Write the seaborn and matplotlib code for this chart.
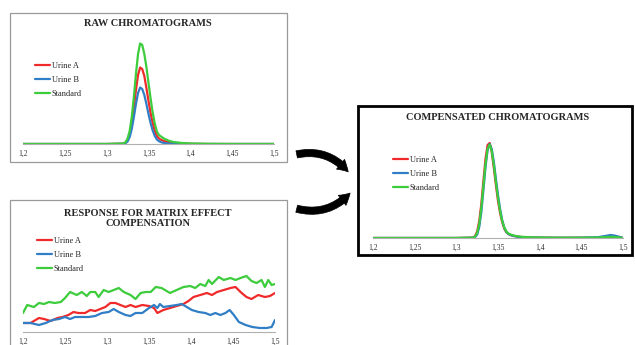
import numpy as np
import pandas as pd
import matplotlib
matplotlib.use("Agg")
import matplotlib.pyplot as plt
import seaborn as sns
from matplotlib.patches import Rectangle, FancyArrowPatch

W, H = 635, 345

# retention time grid for the chromatograms
rt = [1.20, 1.30, 1.32, 1.3225, 1.325, 1.3275, 1.33, 1.3325, 1.335, 1.3375, 1.34, 1.3425,
      1.345, 1.3475, 1.35, 1.3525, 1.355, 1.3575, 1.36, 1.3625, 1.365, 1.3675, 1.37, 1.375,
      1.38, 1.39, 1.40, 1.42, 1.45, 1.47, 1.48, 1.485, 1.49, 1.495, 1.50]

raw_std = [0, 0, 0.5, 1.8, 5.5, 13, 27, 47, 70, 90, 100.5, 99, 90, 77, 61, 45.5, 31.5, 20.5,
           12.5, 9, 7.5, 6, 4.8, 3, 2, 1, 0.5, 0.2, 0, 0, 0, 0, 0, 0, 0]
raw_a = [0, 0, 0.3, 1.2, 4, 10, 21, 36, 54, 69, 76.5, 75, 68, 56, 43, 31, 21, 13,
         8, 5.5, 4.2, 3.3, 2.6, 1.6, 1, 0.5, 0.2, 0, 0, 0, 0, 0, 0, 0, 0]
raw_b = [0, 0, 0.2, 0.8, 2.5, 7, 15, 27, 40, 51, 56.5, 55, 49, 40, 30, 21, 13.5, 8,
         4.5, 2.8, 1.8, 1.2, 0.8, 0.4, 0.2, 0, 0, 0, 0, 0, 0, 0, 0, 0, 0]

comp_std = [0, 0, 0.3, 1.5, 5, 14, 30, 52, 74, 89, 93.5, 87, 73, 56, 40, 27, 17, 10.5,
            6.5, 4.5, 3.5, 2.8, 2.2, 1.5, 1.1, 0.7, 0.5, 0.3, 0.3, 0.5, 1, 1.2, 1, 0.6, 0]
comp_a = [0, 0, 0.4, 2, 6.5, 17, 34, 57, 79, 93, 95, 86, 70, 53, 37, 25, 16, 9.5,
          5.8, 4, 3, 2.4, 1.9, 1.2, 0.8, 0.5, 0.3, 0.2, 0.2, 0.3, 0.6, 0.8, 0.6, 0.3, 0]
comp_b = [0, 0, 0.2, 1, 3.5, 11, 26, 48, 71, 88, 94, 89, 76, 59, 43, 29, 18, 10.5,
          6, 4, 3, 2.3, 1.8, 1.1, 0.7, 0.4, 0.3, 0.2, 0.3, 0.8, 2.2, 3, 2.4, 1.3, 0.2]

# response used for matrix effect compensation
resp_std_x = [1.200, 1.205, 1.213, 1.219, 1.225, 1.231, 1.238, 1.245, 1.250, 1.256, 1.264, 1.270,
              1.276, 1.280, 1.286, 1.290, 1.296, 1.302, 1.308, 1.314, 1.320, 1.328, 1.334, 1.340,
              1.346, 1.352, 1.358, 1.365, 1.371, 1.375, 1.383, 1.391, 1.399, 1.405, 1.411, 1.417,
              1.421, 1.425, 1.433, 1.439, 1.447, 1.453, 1.459, 1.466, 1.472, 1.478, 1.484, 1.488,
              1.492, 1.496, 1.500]
resp_std = [19, 27, 25, 29, 28, 30, 29, 30, 34, 40, 37, 40, 36, 40, 40, 35, 42, 40, 42, 44,
            40, 37, 33, 39, 40, 40, 45, 44, 41, 39, 42, 45, 46, 44, 48, 46, 52, 48, 55, 52,
            54, 52, 54, 56, 51, 49, 52, 45, 52, 47, 48]
resp_a_x = [1.200, 1.209, 1.219, 1.225, 1.233, 1.241, 1.247, 1.254, 1.260, 1.266, 1.274, 1.280,
            1.286, 1.292, 1.298, 1.304, 1.310, 1.316, 1.322, 1.328, 1.334, 1.342, 1.350, 1.356,
            1.360, 1.367, 1.375, 1.383, 1.391, 1.397, 1.403, 1.411, 1.419, 1.425, 1.431, 1.439,
            1.447, 1.453, 1.459, 1.466, 1.472, 1.480, 1.488, 1.494, 1.500]
resp_a = [9, 9, 14, 13, 11, 14, 15, 17, 20, 19, 19, 22, 21, 23, 25, 29, 29, 27, 25, 27,
          25, 27, 26, 24, 19, 22, 24, 26, 28, 31, 35, 37, 39, 37, 40, 42, 44, 45, 40, 35,
          33, 37, 35, 36, 39]
resp_b_x = [1.200, 1.209, 1.219, 1.227, 1.235, 1.243, 1.250, 1.256, 1.262, 1.270, 1.278, 1.286,
            1.294, 1.302, 1.308, 1.314, 1.322, 1.328, 1.334, 1.342, 1.350, 1.356, 1.360, 1.363,
            1.367, 1.375, 1.383, 1.389, 1.395, 1.401, 1.409, 1.417, 1.423, 1.429, 1.435, 1.441,
            1.446, 1.451, 1.457, 1.465, 1.473, 1.482, 1.490, 1.496, 1.500]
resp_b = [9, 9, 7, 9, 12, 13, 15, 13, 15, 15, 15, 16, 19, 20, 23, 20, 17, 16, 19, 19,
          24, 27, 24, 28, 25, 26, 27, 28, 25, 22, 20, 19, 17, 19, 17, 19, 22, 17, 10, 7,
          5, 4, 4, 5, 12]

samples = ["Urine A", "Urine B", "Standard"]
colors = {"Urine A": "#f02a2a", "Urine B": "#2f7ec6", "Standard": "#3ccc3c"}
ticks = [1.2, 1.25, 1.3, 1.35, 1.4, 1.45, 1.5]
tick_labels = ["1,2", "1,25", "1,3", "1,35", "1,4", "1,45", "1,5"]

sns.set_style("white")
plt.rcParams["font.family"] = ["Liberation Serif", "DejaVu Serif"]

fig = plt.figure(figsize=(W / 100, H / 100), dpi=100)


def fx(px): return px / W
def fy(py): return 1 - py / H


def box(x0, y0, x1, y1, color, lw):
    fig.patches.append(Rectangle((fx(x0), fy(y1)), fx(x1) - fx(x0), fy(y0) - fy(y1), transform=fig.transFigure,
                                 fill=False, edgecolor=color, linewidth=lw))


def panel(x0, x1, top, base, ymax, series, legend_at):
    ax = fig.add_axes([fx(x0), fy(base), fx(x1) - fx(x0), fy(top) - fy(base)])
    ax.patch.set_alpha(0)
    df = pd.concat([pd.DataFrame({"rt": x, "signal": y, "sample": s}) for s, x, y in series])
    sns.lineplot(data=df, x="rt", y="signal", hue="sample", hue_order=samples, palette=colors,
                 sort=False, estimator=None, lw=1.6, ax=ax)
    ax.set_xlim(1.2, 1.5); ax.set_ylim(0, ymax)
    ax.set_xticks(ticks); ax.set_xticklabels(tick_labels)
    ax.set_yticks([]); ax.set_xlabel(""); ax.set_ylabel("")
    for s in ["left", "top", "right"]: ax.spines[s].set_visible(False)
    ax.spines["bottom"].set_color("#b0b0b0"); ax.spines["bottom"].set_linewidth(0.8)
    ax.tick_params(axis="x", direction="out", length=2.5, width=0.6, color="#b0b0b0", pad=2, labelsize=5.5, labelcolor="#333333")
    ax.legend(loc="upper left", bbox_to_anchor=(fx(legend_at[0]), fy(legend_at[1])), bbox_transform=fig.transFigure,
              frameon=False, fontsize=6, handlelength=1.8, handletextpad=0.2, labelspacing=0.7, borderpad=0, borderaxespad=0)
    return ax


# raw chromatograms
box(10, 13, 287, 162, "#9a9a9a", 0.9)
panel(23, 274, 35, 144, 109,
      [("Urine A", rt, raw_a), ("Urine B", rt, raw_b), ("Standard", rt, raw_std)], (35, 62))
fig.text(fx(148), fy(24), "RAW CHROMATOGRAMS", ha="center", va="center", fontsize=7.5, fontweight="bold")

# response for matrix effect compensation
box(10, 200, 287, 360, "#9a9a9a", 0.9)
panel(23, 275, 230, 332, 102,
      [("Urine A", resp_a_x, resp_a), ("Urine B", resp_b_x, resp_b), ("Standard", resp_std_x, resp_std)], (37, 237))
fig.text(fx(148), fy(218.5), "RESPONSE FOR MATRIX EFFECT\nCOMPENSATION", ha="center", va="center",
         fontsize=7.5, fontweight="bold", linespacing=1.15)

# compensated chromatograms
box(358, 106, 632, 255, "black", 2)
panel(373, 623, 130, 238, 108,
      [("Urine A", rt, comp_a), ("Urine B", rt, comp_b), ("Standard", rt, comp_std)], (393, 156))
fig.text(fx(498), fy(118), "COMPENSATED CHROMATOGRAMS", ha="center", va="center", fontsize=7.5, fontweight="bold")

# curved arrows
for a, b, rad in [((294, 155), (350, 174), -0.32), ((294, 208), (352, 191), 0.32)]:
    fig.patches.append(FancyArrowPatch((fx(a[0]), fy(a[1])), (fx(b[0]), fy(b[1])), transform=fig.transFigure,
                                       connectionstyle=f"arc3,rad={rad}",
                                       arrowstyle="simple,head_width=7,head_length=6,tail_width=4",
                                       color="black", lw=0.5, mutation_scale=1.3))

fig.savefig("out.png", dpi=100)
